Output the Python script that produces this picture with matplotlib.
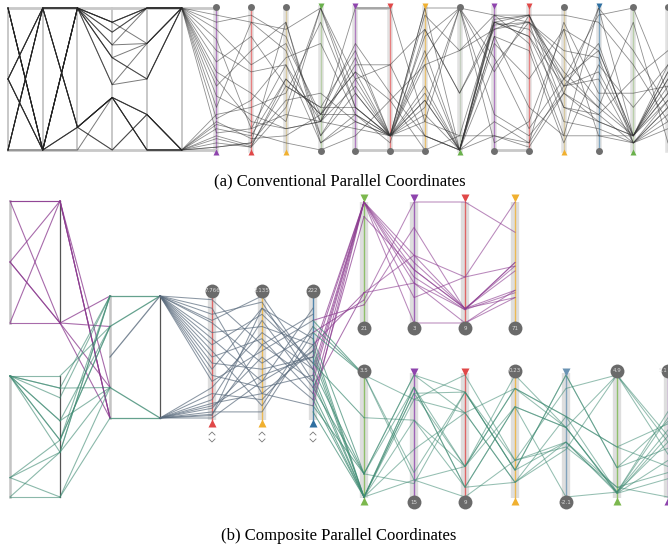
import numpy as np
import matplotlib.pyplot as plt

# ---------------- (a) conventional parallel coordinates ----------------
# 20 axes; first six are categorical, the rest numeric (1 = top, 0 = bottom)
a_axis_colors = ['#c8c8c8'] * 6 + ['#b07cc0', '#e88080', '#d8c9a0', '#b9cfa9',
                                   '#b07cc0', '#e88080', '#e8c070', '#c5cfc0',
                                   '#b07cc0', '#e88080', '#d8c9a0', '#7fa6c2',
                                   '#b9cfa9', '#c8c8c8']
a_top_marks = ['', '', '', '', '', '', 'c', 'c', 'c', 'v', 'v', 'v', 'v', 'c',
               'v', 'v', 'c', 'v', 'c', 'c']
a_bot_marks = ['', '', '', '', '', '', '^', '^', '^', 'c', 'c', 'c', 'c', '^',
               'c', 'c', '^', 'c', '^', '']
a_mark_colors = ['', '', '', '', '', '', '#8e44ad', '#e04848', '#f0b030', '#6ab04c',
                 '#8e44ad', '#e04848', '#f0b030', '#6ab04c', '#8e44ad', '#e04848',
                 '#f0b030', '#2e6fa0', '#6ab04c', '']
a_lines = [
    [1, 0, 1, .9, 1, 1,   .95, .9, .85, 1, .3, .1, 1, 0, .9, .95, .5, .7, .1, .6],
    [1, 0, 1, .83, 1, 1,  .85, .6, .75, .25, .55, .1, .6, 0, .95, .9, .2, .15, .05, .3],
    [.5, 1, .16, .37, .25, 0, .05, .02, .3, 1, .4, .1, .35, 0, .9, .8, .45, .55, .1, .4],
    [.5, 0, 1, .74, 1, 1, .7, .55, .6, .2, .6, .6, .85, .4, .85, .95, .95, .9, .6, .2],
    [0, 1, .16, 0, .25, 0, .02, .05, .9, .05, .25, .1, .2, 1, .25, .1, .4, .25, .05, .15],
    [0, 1, 1, .65, .5, 1, .62, .8, .45, .3, .7, .1, .45, 0, .75, .5, .85, .7, .1, .5],
    [1, 0, 1, .46, .75, 1, .55, .4, .2, 1, .5, .1, 1, 1, .95, .75, .1, 1, .1, .55],
    [.5, 0, .16, .37, 0, 0, .1, .03, .45, .3, .3, .1, .4, 0, .2, .05, .45, .5, .05, .35],
    [.5, 1, 1, .9, 1, 1, .45, .7, .9, .1, .5, .6, .1, 0, .6, .9, .55, .3, .9, .05],
    [0, 0, .16, .37, .25, 0, .15, .1, .5, .25, .25, .05, .85, .4, .9, .85, .5, .3, .1, .45],
    [1, 0, 1, .9, .75, 1, .38, .25, .15, .2, .65, .1, .35, 0, .8, .7, .05, .6, .3, .6],
    [.5, 1, 1, .83, 1, 1, .3, .9, .7, .1, .4, .1, .25, 0, .92, .95, .45, .75, .05, .25],
    [0, 1, 1, .65, .5, 1, .22, .35, .65, .75, .25, .1, .3, 1, .65, .15, .5, .95, 1, .4],
    [.5, 1, .16, 0, .25, 0, .2, .08, .1, .25, .55, .35, .6, .7, .85, .9, .7, .65, .05, .3],
    [1, 0, 1, .74, .75, 1, .12, .15, .6, .05, .2, .1, .1, 0, .8, .3, .1, .1, .05, .2],
    [0, 1, .16, .37, 0, 0, .25, .3, .4, .9, .3, .1, .8, 1, .55, .95, .3, .2, .1, .5],
    [.5, 0, 1, .46, .5, 1, .9, .95, .8, .2, 1, 1, .2, .1, .1, .05, .9, .4, .4, .45],
    [0, 1, .16, .37, .25, 0, .02, .05, .35, .4, .2, .1, .7, 0, .88, .9, .65, .35, .1, .35],
    [1, 0, 1, .65, .75, 1, .78, .15, .25, .2, .15, .1, .95, .7, .95, .95, .4, .2, .1, .55],
    [.5, 0, 0, .37, 0, 0, .08, .02, .5, .25, .75, .4, .1, 0, .1, .02, .4, 1, .7, .3],
    [0, 1, 1, .9, 1, 1, .5, .2, .15, .2, .45, .1, .65, 1, .05, .2, .85, .1, .1, .4],
    [1, 0, .16, .37, 0, 0, .18, .12, .05, 0, .1, .35, 0, .1, .9, .8, .3, .25, .5, .7],
]

# ---------------- (b) composite parallel coordinates ----------------
# purple cluster, left block: axes A, B, E
purple_left = [
    [1, 1, .25], [.5, 1, 0], [0, 1, 0], [.5, 0, .25],
    [1, 0, 1], [0, 0, 0], [.5, 0, .75], [1, 1, 0],
]
# green cluster, left block: axes C, D, E
green_left = [
    [1, 1, .75], [1, .9, 1], [1, .82, 1], [1, .63, .75], [1, .47, 1],
    [1, .37, .25], [.16, .37, 1], [.16, 0, .25], [0, 0, 0], [1, .47, .75],
    [0, .37, 1], [1, .63, .25], [.16, .47, .75], [1, .9, .25],
]
# aggregated links between E and F
ef_links = [[1, 1], [.75, 1], [.5, 1], [.25, 0], [0, 0]]
ef_colors = ['#3e8a72', '#3e8a72', '#5a6b7d', '#3e8a72', '#3e8a72']
# shared block: axes F, G, H, I
shared = [
    [1, .97, .6, .85], [1, .9, .2, .55], [1, .85, .95, .3], [1, .78, .45, .7],
    [1, .7, .75, .6], [1, .65, .3, .9], [1, .6, .85, .45], [1, .55, .1, .75],
    [1, .5, .65, .2], [1, .45, .4, .5], [1, .4, .9, .65], [1, .35, .25, .35],
    [1, .3, .55, .8], [0, .25, .7, .4], [0, .2, .15, .6], [0, .15, .8, .25],
    [0, .1, .35, .5], [0, .08, .5, .15], [0, .05, .05, .7], [0, .03, .6, .3],
    [0, .02, .9, .45], [0, 0, .3, .55], [0, .12, .2, .1], [1, .8, 1, .4],
]
shared_labels = ['7.766', '2.135', '222']
# purple cluster, upper right block: I, U1..U4
purple_right = [
    [.1, 1, .5, .12, .27], [.2, 1, .38, .11, .25], [.3, 1, .44, .12, .47],
    [.4, 1, .33, 0, .21], [.5, 1, .21, .38, 1], [.6, .25, .56, .12, .43],
    [.7, .19, 1, 1, .75], [.8, .15, .79, .11, .5], [.15, .88, .44, .12, .21],
    [.35, 1, 0, 0, .27], [.25, .25, .33, .11, .5], [.55, 1, .56, .38, .47],
]
upper_labels = ['21', '3', '9', '71']
# green cluster, lower right block: I, L1..L7
green_right = [
    [.75, 1, .2, .86, .3, .89, 1, .5], [.7, 1, .14, .25, .89, .66, .41, .6],
    [.65, .19, 1, .69, .12, .45, .04, .45], [.6, 0, .9, .08, .74, .57, .03, .3],
    [.55, 0, .85, .86, .22, 1, .24, .62], [.5, 0, .8, 1, .3, .41, .08, .2],
    [.45, .65, .63, .25, .74, .57, .04, .55], [.4, .19, .9, .08, .12, .39, 1, .35],
    [.35, 0, .39, .69, .89, .66, .04, .7], [.3, 0, .14, 0, .3, .45, .08, 0],
    [.25, .19, .11, .86, .22, 1, .24, .4], [.2, 0, .85, .25, 1, .57, .03, .5],
    [.8, 1, .8, .69, .12, .66, .41, .25], [.15, 0, .63, .08, .74, 0, .04, .65],
    [.1, .19, 1, .86, .22, .45, .03, .15], [.05, 0, .9, .25, .89, .57, 1, .45],
]
lower_labels = ['3.5', '15', '9', '0.23', '-2.1', '4.9', '5.1']

PURPLE = '#8b3a8f'
GREEN = '#3e8a72'
SLATE = '#5a6b7d'
C_PUR, C_RED, C_ORA, C_GRN, C_BLU = '#8e44ad', '#e04848', '#f0b030', '#7cb84e', '#2e6fa0'


def ymap(vals, top, bot):
    return bot - np.asarray(vals, dtype=float) * (bot - top)


fig = plt.figure(figsize=(6.68, 5.48), dpi=100)
ax = fig.add_axes([0, 0, 1, 1])
ax.set_xlim(0, 668)
ax.set_ylim(548, 0)
ax.axis('off')

# ---- panel (a)
a_x = np.linspace(8, 668, 20)
a_top, a_bot = 8, 150
for i, xx in enumerate(a_x):
    if i < 6:
        ax.plot([xx, xx], [a_top, a_bot], color='#c8c8c8', lw=1.4, zorder=1)
    else:
        ax.plot([xx, xx], [a_top, a_bot], color='#e2e2e2', lw=4, zorder=1)
        ax.plot([xx, xx], [a_top, a_bot], color=a_axis_colors[i], lw=1, zorder=1)
# frame of the categorical block and light brush bands
for i0, i1, yy in [(0, 6, a_top), (0, 6, a_bot), (10, 11, a_top), (10, 12, a_bot), (14, 15, a_bot)]:
    ax.plot([a_x[i0], a_x[i1]], [yy, yy], color='#c8c8c8', lw=2, zorder=1)
for row in a_lines:
    ax.plot(a_x[:6], ymap(row[:6], a_top, a_bot), color='#222222', lw=0.7, alpha=0.6, zorder=2)
    ax.plot(a_x[5:], ymap(row[5:], a_top, a_bot), color='#333333', lw=0.6, alpha=0.55, zorder=2)
for i, xx in enumerate(a_x):
    for mk, yy, tri in [(a_top_marks[i], a_top - 1, 'v'), (a_bot_marks[i], a_bot + 1, '^')]:
        if mk == 'c':
            ax.plot(xx, yy, 'o', ms=5, color='#6e6e6e', mec='none', zorder=4, clip_on=False)
        elif mk:
            ax.plot(xx, yy + (-1 if tri == 'v' else 1), tri, ms=4, color=a_mark_colors[i],
                    mec='none', zorder=4, clip_on=False)

ax.text(340, 181, '(a) Conventional Parallel Coordinates', ha='center', va='center',
        fontsize=12, family='Liberation Serif')

# ---- panel (b)
xA, xB, xE, xF = 10, 60, 110, 160
up_top, up_bot = 201, 323
lo_top, lo_bot = 376, 497
mid_top, mid_bot = 296, 418
x_shared = [212, 262, 313]
x_upper = [364, 414, 465, 515]
x_lower = [364, 414, 465, 515, 566, 617, 668]
ur_top, ur_bot = 202, 323
lr_top, lr_bot = 375, 497

for xx, t, b in [(xA, up_top, up_bot), (xA, lo_top, lo_bot), (xE, mid_top, mid_bot)]:
    ax.plot([xx, xx], [t, b], color='#c4c4c4', lw=1.8, zorder=1)
for xx, t, b in [(xB, up_top, up_bot), (xB, lo_top, lo_bot), (xF, mid_top, mid_bot)]:
    ax.plot([xx, xx], [t, b], color='#555555', lw=0.9, zorder=1)


def bar_axis(xx, t, b, col):
    ax.plot([xx, xx], [t, b], color='#dedede', lw=6, zorder=1, solid_capstyle='butt')
    ax.plot([xx, xx], [t, b], color=col, lw=1, alpha=0.8, zorder=1)


def badge(xx, yy, label):
    ax.plot(xx, yy, 'o', ms=10, color='#6a6a6a', mec='none', zorder=5, clip_on=False)
    tx = min(xx, 663)
    ax.text(tx, yy, label, ha='center', va='center', fontsize=4, color='#dcdcdc', zorder=6)


shared_cols = [C_RED, C_ORA, C_BLU]
upper_cols = [C_GRN, C_PUR, C_RED, C_ORA]
lower_cols = [C_GRN, C_PUR, C_RED, C_ORA, '#6a93b3', C_GRN, C_PUR]
for xx, c in zip(x_shared, shared_cols):
    bar_axis(xx, mid_top - 4, mid_bot + 2, c)
for xx, c in zip(x_upper, upper_cols):
    bar_axis(xx, ur_top, ur_bot + 3, c)
for xx, c in zip(x_lower, lower_cols):
    bar_axis(xx, lr_top - 2, lr_bot + 1, c)

for row in purple_left:
    ax.plot([xA, xB], ymap(row[:2], up_top, up_bot), color=PURPLE, lw=0.8, alpha=0.75, zorder=2)
    ax.plot([xB, xE], [ymap(row[1], up_top, up_bot), ymap(row[2], mid_top, mid_bot)],
            color=PURPLE, lw=0.8, alpha=0.75, zorder=2)
for row in green_left:
    ax.plot([xA, xB], ymap(row[:2], lo_top, lo_bot), color=GREEN, lw=0.8, alpha=0.6, zorder=2)
    ax.plot([xB, xE], [ymap(row[1], lo_top, lo_bot), ymap(row[2], mid_top, mid_bot)],
            color=GREEN, lw=0.8, alpha=0.6, zorder=2)
for row, c in zip(ef_links, ef_colors):
    ax.plot([xE, xF], ymap(row, mid_top, mid_bot), color=c, lw=0.9, alpha=0.8, zorder=2)
for row in shared:
    ax.plot([xF] + x_shared, ymap(row, mid_top, mid_bot), color=SLATE, lw=0.75, alpha=0.7, zorder=2)
for row in purple_right:
    ax.plot([x_shared[2], x_upper[0]],
            [ymap(row[0], mid_top, mid_bot), ymap(row[1], ur_top, ur_bot)],
            color=PURPLE, lw=0.75, alpha=0.7, zorder=2)
    ax.plot(x_upper, ymap(row[1:], ur_top, ur_bot), color=PURPLE, lw=0.75, alpha=0.6, zorder=2)
for row in green_right:
    ax.plot([x_shared[2], x_lower[0]],
            [ymap(row[0], mid_top, mid_bot), ymap(row[1], lr_top, lr_bot)],
            color=GREEN, lw=0.75, alpha=0.7, zorder=2)
    ax.plot(x_lower, ymap(row[1:], lr_top, lr_bot), color=GREEN, lw=0.75, alpha=0.55, zorder=2)

# markers and badges
for xx, c, lab in zip(x_shared, shared_cols, shared_labels):
    badge(xx, mid_top - 5, lab)
    ax.plot(xx, mid_bot + 5, '^', ms=6, color=c, mec='none', zorder=5)
    ax.plot([xx - 3, xx, xx + 3], [mid_bot + 17, mid_bot + 14, mid_bot + 17], color='#777', lw=0.6)
    ax.plot([xx - 3, xx, xx + 3], [mid_bot + 21, mid_bot + 24, mid_bot + 21], color='#777', lw=0.6)
for xx, c, lab in zip(x_upper, upper_cols, upper_labels):
    ax.plot(xx, ur_top - 4, 'v', ms=6, color=c, mec='none', zorder=5)
    badge(xx, ur_bot + 5, lab)
lower_top_tri = [False, True, True, False, True, False, False]
for xx, c, lab, tri in zip(x_lower, lower_cols, lower_labels, lower_top_tri):
    if tri:
        ax.plot(xx, lr_top - 3, 'v', ms=6, color=c, mec='none', zorder=5)
        badge(xx, lr_bot + 5, lab)
    else:
        badge(xx, lr_top - 4, lab)
        ax.plot(xx, lr_bot + 4, '^', ms=6, color=c, mec='none', zorder=5)

ax.text(339, 536, '(b) Composite Parallel Coordinates', ha='center', va='center',
        fontsize=12, family='Liberation Serif')

fig.savefig('out.png', dpi=100)
